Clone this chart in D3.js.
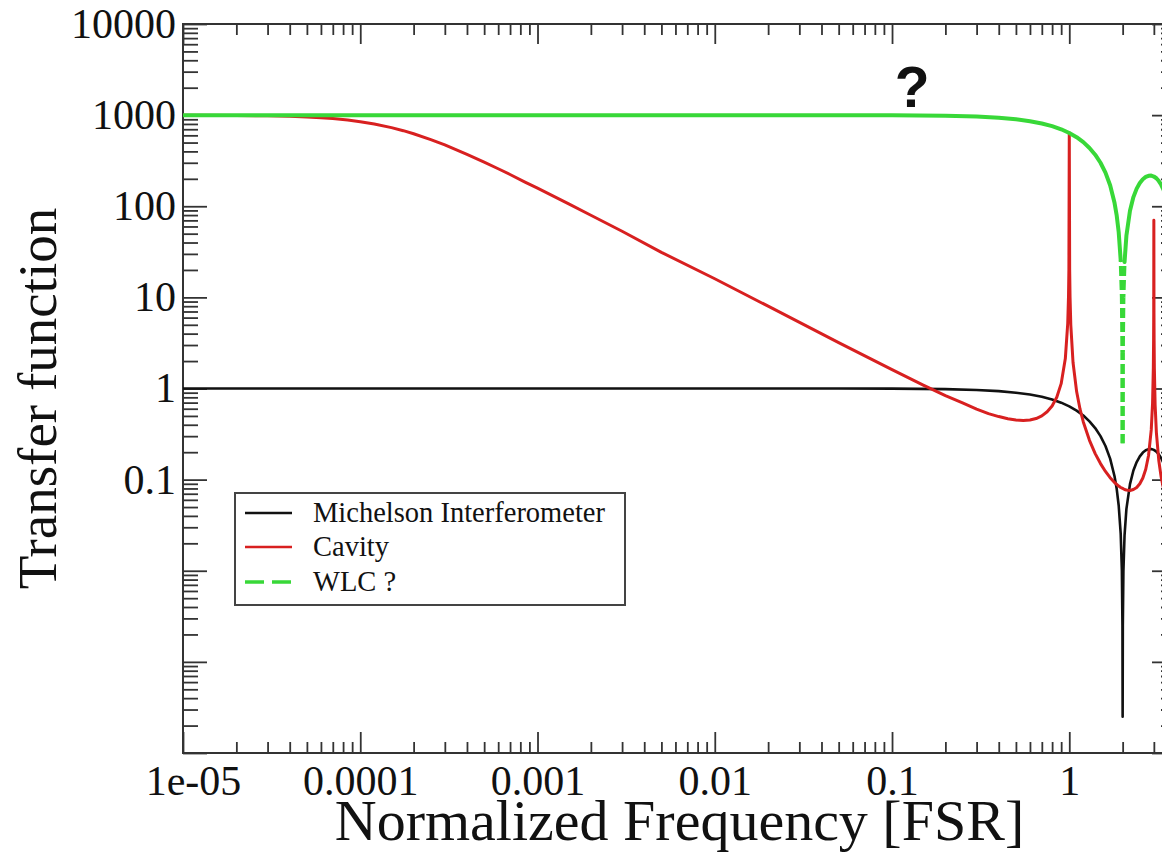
<!DOCTYPE html>
<html>
<head>
<meta charset="utf-8">
<script src="https://cdn.jsdelivr.net/npm/d3@7"></script>
<style>
  html, body { margin: 0; padding: 0; background: #fff; }
  svg { display: block; }
  text { font-family: "Liberation Serif", "Times New Roman", serif; fill: #111; }
</style>
</head>
<body>
<svg id="chart" width="1162" height="860"></svg>
<script>
// Frequency in units of the free spectral range (FSR)
const michelsonFreq = [1e-5, 0.01, 0.05, 0.1, 0.2, 0.3, 0.4, 0.5, 0.6, 0.7, 0.8, 0.9, 1.0,
  1.1, 1.2, 1.3, 1.4, 1.5, 1.6, 1.7, 1.8, 1.85, 1.9, 1.95, 1.98, 1.995, 2.0, 2.005, 2.02,
  2.05, 2.1, 2.2, 2.3, 2.4, 2.5, 2.6, 2.7, 2.8, 2.9, 3.0, 3.1, 3.2, 3.3, 3.4, 3.5, 3.6,
  3.7, 3.8, 3.9];
const michelsonTF = [1, 1, 0.999, 0.996, 0.984, 0.963, 0.935, 0.900, 0.858, 0.810, 0.757, 0.699, 0.637,
  0.572, 0.505, 0.436, 0.368, 0.300, 0.234, 0.170, 0.109, 0.080, 0.052, 0.0256, 0.0101, 0.0025, 0.00025, 0.0025, 0.0099,
  0.0244, 0.0474, 0.0894, 0.126, 0.156, 0.180, 0.198, 0.210, 0.216, 0.217, 0.212, 0.203, 0.189, 0.172, 0.152, 0.129, 0.104,
  0.078, 0.052, 0.026];

const wlcFreq = michelsonFreq;
const wlcTF = [1000, 1000, 999, 996, 984, 963, 935, 900, 858, 810, 757, 699, 637,
  572, 505, 436, 368, 300, 234, 170, 109, 80, 52, 25.6, 10.1, 2.5, 0.25, 2.5, 9.9,
  24.4, 47.4, 89.4, 126, 156, 180, 198, 210, 216, 217, 212, 203, 189, 172, 152, 129, 104,
  78, 52, 26];

const cavityFreq = [1e-5, 2e-5, 3e-5, 4e-5, 5e-5, 6e-5, 7e-5, 8.5e-5, 1e-4, 1.2e-4, 1.5e-4, 1.75e-4,
  2e-4, 2.5e-4, 3e-4, 4e-4, 5e-4, 6e-4, 7e-4, 8.5e-4, 1e-3, 1.5e-3, 2e-3, 3e-3, 5e-3, 0.01,
  0.02, 0.05, 0.1, 0.15, 0.2, 0.25, 0.3, 0.35, 0.4, 0.45, 0.5, 0.55, 0.6, 0.65, 0.7, 0.75, 0.8, 0.85, 0.9,
  0.95, 0.98, 0.99, 0.995, 1.0, 1.005, 1.01, 1.02, 1.05, 1.1, 1.15, 1.2, 1.3, 1.4, 1.5,
  1.6, 1.7, 1.8, 1.9, 1.95, 2.0, 2.05, 2.1, 2.2, 2.3, 2.4, 2.5, 2.6, 2.7, 2.8, 2.9, 2.95,
  2.98, 2.99, 2.995, 3.0, 3.005, 3.01, 3.02, 3.05, 3.1, 3.2, 3.3, 3.4, 3.5, 3.6, 3.7, 3.8, 3.9];
const cavityTF = [998, 992, 983, 970, 954, 936, 916, 883, 848, 800, 729, 675,
  625, 539, 471, 371, 305, 258, 223, 184, 158, 106, 79.7, 53.2, 31.2, 16.0,
  8.0, 3.19, 1.61, 1.09, 0.837, 0.694, 0.595, 0.530, 0.492, 0.466, 0.450, 0.446, 0.451, 0.468, 0.501, 0.556, 0.644, 0.80, 1.13,
  2.13, 5.17, 10.2, 20.4, 640, 20.2, 10.0, 4.97, 1.93, 0.925, 0.593, 0.429, 0.270, 0.193, 0.150,
  0.123, 0.105, 0.093, 0.085, 0.082, 0.080, 0.078, 0.077, 0.076, 0.078, 0.082, 0.090, 0.104, 0.130, 0.184, 0.351, 0.687,
  1.70, 3.39, 6.77, 70, 6.7, 3.36, 1.67, 0.664, 0.328, 0.161, 0.106, 0.080, 0.0645, 0.055, 0.048, 0.044, 0.042];

const xTickValues = [1e-5, 1e-4, 1e-3, 1e-2, 1e-1, 1];
const xTickLabels = ["1e-05", "0.0001", "0.001", "0.01", "0.1", "1"];
const yTickValues = [1e-4, 1e-3, 1e-2, 1e-1, 1, 10, 100, 1000, 10000];
const yTickLabels = ["", "", "", "0.1", "1", "10", "100", "1000", "10000"];

const seriesNames = ["Michelson Interferometer", "Cavity", "WLC ?"];
const seriesColors = ["#111111", "#d82020", "#38d838"];

// ---- layout ----
const svg = d3.select("#chart");
const plot = { left: 183, top: 24, right: 1176, bottom: 753 };

const x = d3.scaleLog().domain([1e-5, 4]).range([plot.left, plot.right]);
const y = d3.scaleLog().domain([1e-4, 1e4]).range([plot.bottom, plot.top]);

// minor tick positions: 2..9 of every decade inside the domain
function minorTicks(scale) {
  const [a, b] = scale.domain();
  const out = [];
  for (let e = Math.floor(Math.log10(a)); e <= Math.ceil(Math.log10(b)); e++) {
    for (let k = 2; k <= 9; k++) {
      const v = k * Math.pow(10, e);
      if (v > a && v < b) out.push(v);
    }
  }
  return out;
}

svg.append("defs").append("clipPath").attr("id", "plotClip")
  .append("rect")
  .attr("x", plot.left).attr("y", plot.top)
  .attr("width", plot.right - plot.left).attr("height", plot.bottom - plot.top);

const axisColor = "#333";
function styleAxis(g) {
  g.select(".domain").remove();
  g.selectAll(".tick line").attr("stroke", axisColor).attr("stroke-width", 1.8);
  g.selectAll(".tick text").style("font-size", "42px").attr("fill", "#111");
}

const fmtX = d => xTickLabels[xTickValues.findIndex(v => Math.abs(v - d) / v < 1e-9)];
const fmtY = d => yTickLabels[yTickValues.findIndex(v => Math.abs(v - d) / v < 1e-9)];

// bottom axis
const xAxisG = svg.append("g").attr("transform", `translate(0,${plot.bottom})`)
  .call(d3.axisBottom(x).tickValues(xTickValues).tickFormat(fmtX).tickSizeInner(-21).tickSizeOuter(0).tickPadding(12))
  .call(styleAxis);
// first label sits just right of the corner
xAxisG.selectAll(".tick text").filter(d => d === xTickValues[0]).attr("dx", 10);
svg.append("g").attr("transform", `translate(0,${plot.bottom})`)
  .call(d3.axisBottom(x).tickValues(minorTicks(x)).tickFormat("").tickSizeInner(-11).tickSizeOuter(0))
  .call(styleAxis);
// top axis
svg.append("g").attr("transform", `translate(0,${plot.top})`)
  .call(d3.axisTop(x).tickValues(xTickValues).tickFormat("").tickSizeInner(-20).tickSizeOuter(0))
  .call(styleAxis);
svg.append("g").attr("transform", `translate(0,${plot.top})`)
  .call(d3.axisTop(x).tickValues(minorTicks(x)).tickFormat("").tickSizeInner(-11).tickSizeOuter(0))
  .call(styleAxis);
// left axis
svg.append("g").attr("transform", `translate(${plot.left},0)`)
  .call(d3.axisLeft(y).tickValues(yTickValues).tickFormat(fmtY).tickSizeInner(-24).tickSizeOuter(0).tickPadding(7))
  .call(styleAxis);
svg.append("g").attr("transform", `translate(${plot.left},0)`)
  .call(d3.axisLeft(y).tickValues(minorTicks(y)).tickFormat("").tickSizeInner(-15).tickSizeOuter(0))
  .call(styleAxis);
// right axis
svg.append("g").attr("transform", `translate(${plot.right},0)`)
  .call(d3.axisRight(y).tickValues(yTickValues).tickFormat("").tickSizeInner(-24).tickSizeOuter(0))
  .call(styleAxis);
svg.append("g").attr("transform", `translate(${plot.right},0)`)
  .call(d3.axisRight(y).tickValues(minorTicks(y)).tickFormat("").tickSizeInner(-15).tickSizeOuter(0))
  .call(styleAxis);

// frame
svg.append("rect")
  .attr("x", plot.left).attr("y", plot.top)
  .attr("width", plot.right - plot.left).attr("height", plot.bottom - plot.top)
  .attr("fill", "none").attr("stroke", axisColor).attr("stroke-width", 2);

// ---- curves ----
const curves = svg.append("g").attr("clip-path", "url(#plotClip)");
const line = d3.line().x(d => x(d.f)).y(d => y(d.v));
const toPoints = (fs, vs) => fs.map((f, i) => ({ f, v: vs[i] }));

curves.append("path")
  .datum(toPoints(michelsonFreq, michelsonTF))
  .attr("d", line)
  .attr("fill", "none").attr("stroke", seriesColors[0]).attr("stroke-width", 2.6)
  .attr("stroke-linejoin", "round");

curves.append("path")
  .datum(toPoints(cavityFreq, cavityTF))
  .attr("d", line)
  .attr("fill", "none").attr("stroke", seriesColors[1]).attr("stroke-width", 3)
  .attr("stroke-linejoin", "round");

// WLC curve: dashed line; the dash pattern shows on the near-vertical strokes of the notch,
// the gently varying parts render as a continuous stroke
const wlcPts = toPoints(wlcFreq, wlcTF).map(d => ({ ...d, px: x(d.f), py: y(d.v) }));
const dash = [10, 4];
const period = dash[0] + dash[1];
let run = [wlcPts[0]];
const wlcG = curves.append("g");
function flushRun() {
  if (run.length > 1) {
    wlcG.append("path").datum(run).attr("d", line)
      .attr("fill", "none").attr("stroke", seriesColors[2]).attr("stroke-width", 4)
      .attr("stroke-linejoin", "round").attr("stroke-linecap", "round");
  }
}
for (let i = 0; i < wlcPts.length - 1; i++) {
  const p = wlcPts[i], q = wlcPts[i + 1];
  const steep = Math.abs(q.px - p.px) < 1.5 && Math.abs(q.py - p.py) > 3;
  if (steep) {
    flushRun();
    run = [q];
    const top = p.py < q.py ? p : q, bot = p.py < q.py ? q : p;
    wlcG.append("path").datum([top, bot]).attr("d", line)
      .attr("fill", "none").attr("stroke", seriesColors[2]).attr("stroke-width", 4)
      .attr("stroke-dasharray", dash.join(","))
      .attr("stroke-dashoffset", top.py % period);
  } else {
    run.push(q);
  }
}
flushRun();

// ---- annotation ----
svg.append("text")
  .attr("x", x(0.13)).attr("y", 107)
  .attr("text-anchor", "middle")
  .style("font-family", "'Liberation Sans', Arial, sans-serif")
  .style("font-weight", "bold").style("font-size", "57px")
  .text("?");

// ---- legend ----
const legend = svg.append("g");
legend.append("rect")
  .attr("x", 235).attr("y", 493).attr("width", 390).attr("height", 112)
  .attr("fill", "#fff").attr("stroke", "#444").attr("stroke-width", 2);
const legendRows = [513, 547, 582];
seriesNames.forEach((name, i) => {
  legend.append("line")
    .attr("x1", 245).attr("x2", 292).attr("y1", legendRows[i]).attr("y2", legendRows[i])
    .attr("stroke", seriesColors[i]).attr("stroke-width", i === 2 ? 3.5 : 2.6)
    .attr("stroke-dasharray", i === 2 ? "19,8" : null);
  legend.append("text")
    .attr("x", 313).attr("y", legendRows[i] + 9)
    .style("font-size", "28.5px")
    .text(name);
});

// ---- axis titles ----
svg.append("text")
  .attr("x", (plot.left + plot.right) / 2).attr("y", 840)
  .attr("text-anchor", "middle")
  .style("font-size", "58px")
  .text("Normalized Frequency [FSR]");
svg.append("text")
  .attr("transform", `translate(56,${(plot.top + plot.bottom) / 2 + 10}) rotate(-90)`)
  .attr("text-anchor", "middle")
  .style("font-size", "55px")
  .text("Transfer function");
</script>
</body>
</html>
